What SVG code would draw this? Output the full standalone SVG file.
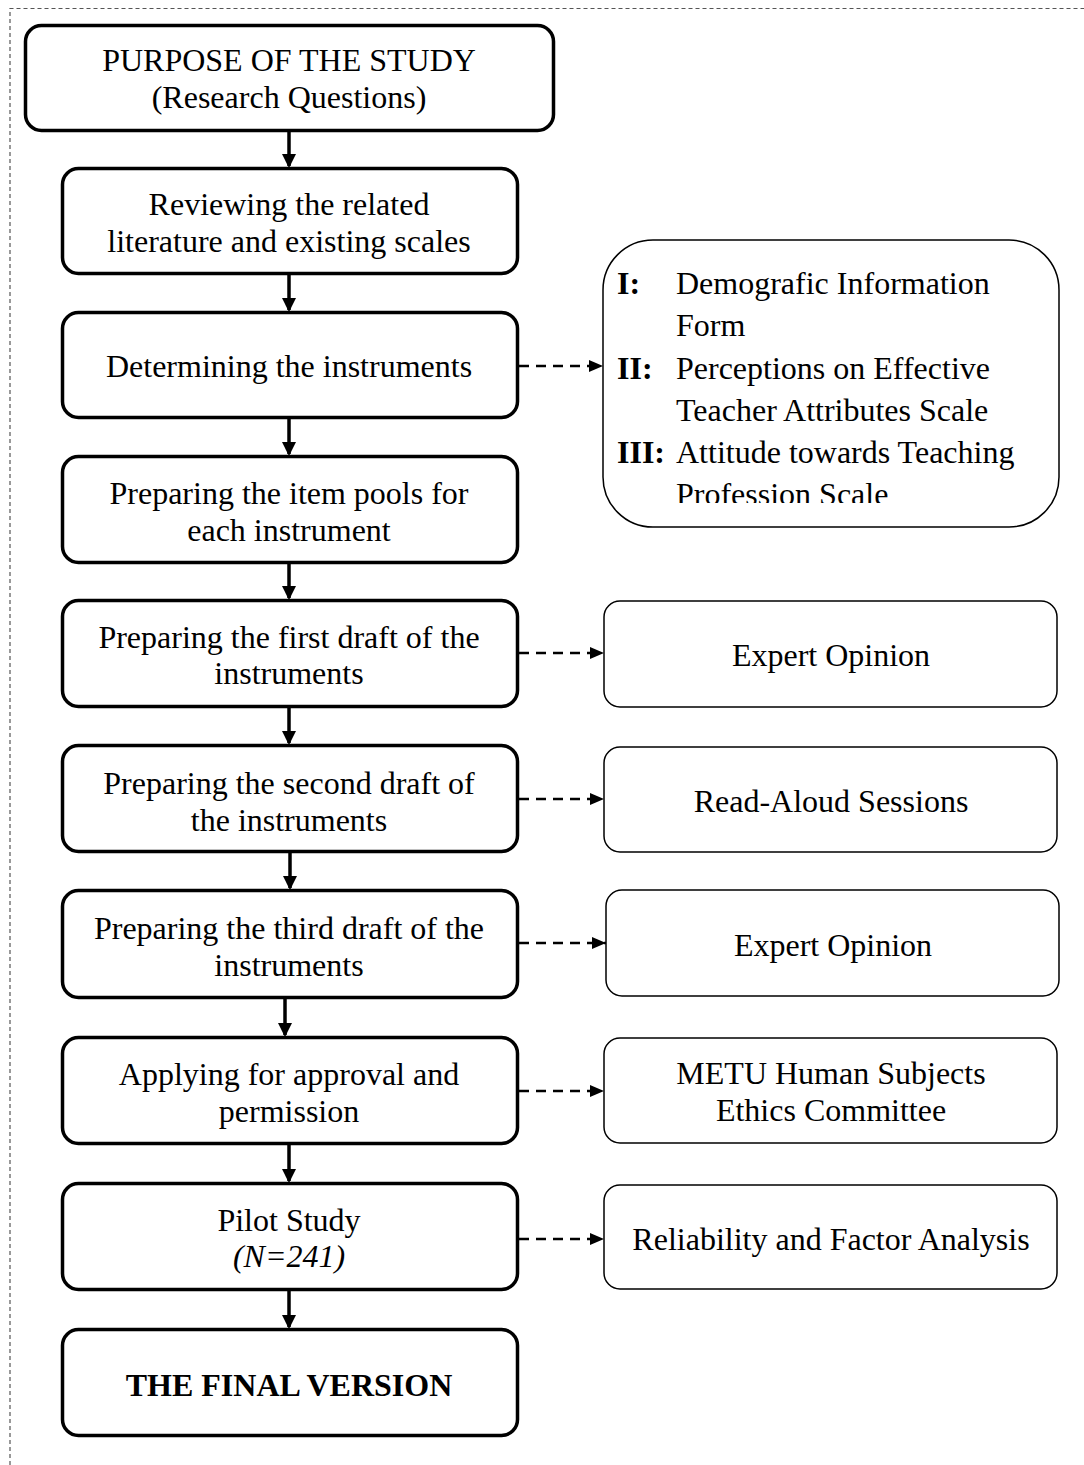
<svg xmlns="http://www.w3.org/2000/svg" width="1084" height="1465" viewBox="0 0 1084 1465">
<style>
.main{fill:#fff;stroke:#000;stroke-width:3.5}
.side{fill:#fff;stroke:#000;stroke-width:1.5}
text{font-family:"Liberation Serif","Times New Roman",serif;font-size:32px;fill:#000}
.c{text-anchor:middle}
.flow{stroke:#000;stroke-width:3.5;fill:none}
.dash{stroke:#000;stroke-width:2.6;fill:none;stroke-dasharray:10,7}
</style>
<defs>
<marker id="ah" markerWidth="4" markerHeight="4" refX="3.4" refY="2" orient="auto" markerUnits="strokeWidth"><path d="M0,0 L4,2 L0,4 Z" fill="#000"/></marker>
<marker id="dh" markerWidth="14" markerHeight="14" refX="14" refY="7" orient="auto" markerUnits="userSpaceOnUse"><path d="M0,1 L14,7 L0,13 Z" fill="#000"/></marker>
<clipPath id="clipI"><rect x="603" y="240" width="456" height="263"/></clipPath>
</defs>
<path d="M10,1465 V8.5 H1084" fill="none" stroke="#555" stroke-width="1.2" stroke-dasharray="4,3"/>

<g id="connectors">
<line class="flow" x1="289" y1="131" x2="289" y2="166" marker-end="url(#ah)"/>
<line class="flow" x1="289" y1="274" x2="289" y2="310" marker-end="url(#ah)"/>
<line class="flow" x1="289" y1="418" x2="289" y2="454" marker-end="url(#ah)"/>
<line class="flow" x1="289" y1="563" x2="289" y2="598" marker-end="url(#ah)"/>
<line class="flow" x1="289" y1="707" x2="289" y2="743" marker-end="url(#ah)"/>
<line class="flow" x1="290" y1="852" x2="290" y2="888" marker-end="url(#ah)"/>
<line class="flow" x1="285" y1="998" x2="285" y2="1035" marker-end="url(#ah)"/>
<line class="flow" x1="289" y1="1144" x2="289" y2="1181" marker-end="url(#ah)"/>
<line class="flow" x1="289" y1="1290" x2="289" y2="1327" marker-end="url(#ah)"/>
<line class="dash" x1="519" y1="366" x2="603" y2="366" marker-end="url(#dh)"/>
<line class="dash" x1="519" y1="653" x2="604" y2="653" marker-end="url(#dh)"/>
<line class="dash" x1="519" y1="799" x2="604" y2="799" marker-end="url(#dh)"/>
<line class="dash" x1="519" y1="943" x2="606" y2="943" marker-end="url(#dh)"/>
<line class="dash" x1="519" y1="1091" x2="604" y2="1091" marker-end="url(#dh)"/>
<line class="dash" x1="519" y1="1239" x2="604" y2="1239" marker-end="url(#dh)"/>
</g>

<g id="n1"><rect class="main" x="25.5" y="25.5" width="528" height="105" rx="16"/>
<text class="c" x="289" y="71">PURPOSE OF THE STUDY</text>
<text class="c" x="289" y="108">(Research Questions)</text></g>

<g id="n2"><rect class="main" x="62.5" y="168.5" width="455" height="105" rx="16"/>
<text class="c" x="289" y="215">Reviewing the related</text>
<text class="c" x="289" y="252">literature and existing scales</text></g>

<g id="n3"><rect class="main" x="62.5" y="312.5" width="455" height="105" rx="16"/>
<text class="c" x="289" y="377">Determining the instruments</text></g>

<g id="n4"><rect class="main" x="62.5" y="456.5" width="455" height="106" rx="16"/>
<text class="c" x="289" y="504">Preparing the item pools for</text>
<text class="c" x="289" y="541">each instrument</text></g>

<g id="n5"><rect class="main" x="62.5" y="600.5" width="455" height="106" rx="16"/>
<text class="c" x="289" y="648">Preparing the first draft of the</text>
<text class="c" x="289" y="684">instruments</text></g>

<g id="n6"><rect class="main" x="62.5" y="745.5" width="455" height="106" rx="16"/>
<text class="c" x="289" y="794">Preparing the second draft of</text>
<text class="c" x="289" y="831">the instruments</text></g>

<g id="n7"><rect class="main" x="62.5" y="890.5" width="455" height="107" rx="16"/>
<text class="c" x="289" y="939">Preparing the third draft of the</text>
<text class="c" x="289" y="976">instruments</text></g>

<g id="n8"><rect class="main" x="62.5" y="1037.5" width="455" height="106" rx="16"/>
<text class="c" x="289" y="1085">Applying for approval and</text>
<text class="c" x="289" y="1122">permission</text></g>

<g id="n9"><rect class="main" x="62.5" y="1183.5" width="455" height="106" rx="16"/>
<text class="c" x="289" y="1231">Pilot Study</text>
<text class="c" x="289" y="1267" font-style="italic">(N=241)</text></g>

<g id="n10"><rect class="main" x="62.5" y="1329.5" width="455" height="106" rx="16"/>
<text class="c" x="289" y="1396" font-weight="bold">THE FINAL VERSION</text></g>

<g id="instruments"><rect class="side" x="603" y="240" width="456" height="287" rx="50"/>
<g clip-path="url(#clipI)">
<text x="617" y="294" font-weight="bold">I:</text><text x="676" y="294">Demografic Information</text>
<text x="676" y="336">Form</text>
<text x="617" y="379" font-weight="bold">II:</text><text x="676" y="379">Perceptions on Effective</text>
<text x="676" y="421">Teacher Attributes Scale</text>
<text x="617" y="463" font-weight="bold">III:</text><text x="676" y="463">Attitude towards Teaching</text>
<text x="676" y="505">Profession Scale</text>
</g></g>

<g id="expert1"><rect class="side" x="604" y="601" width="453" height="106" rx="16"/>
<text class="c" x="831" y="666">Expert Opinion</text></g>

<g id="readaloud"><rect class="side" x="604" y="747" width="453" height="105" rx="16"/>
<text class="c" x="831" y="812">Read-Aloud Sessions</text></g>

<g id="expert2"><rect class="side" x="606" y="890" width="453" height="106" rx="16"/>
<text class="c" x="833" y="956">Expert Opinion</text></g>

<g id="metu"><rect class="side" x="604" y="1038" width="453" height="105" rx="16"/>
<text class="c" x="831" y="1084">METU Human Subjects</text>
<text class="c" x="831" y="1121">Ethics Committee</text></g>

<g id="reliability"><rect class="side" x="604" y="1185" width="453" height="104" rx="16"/>
<text class="c" x="831" y="1250">Reliability and Factor Analysis</text></g>
</svg>
